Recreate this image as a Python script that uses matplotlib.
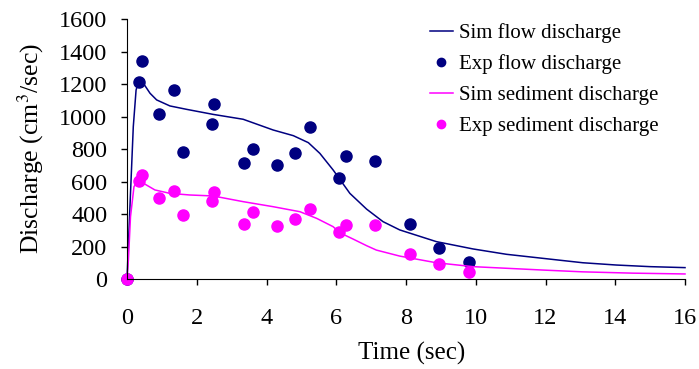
import matplotlib.pyplot as plt

plt.rcParams['font.family'] = ['Liberation Serif', 'DejaVu Serif']
plt.rcParams['mathtext.fontset'] = 'stix'

# simulated flow discharge
t_flow_sim = [0, 0.1, 0.18, 0.26, 0.35, 0.47, 0.66, 0.85, 1.23, 1.71, 2.47, 3.33, 4.19,
              4.77, 5.2, 5.53, 5.91, 6.39, 6.87, 7.34, 7.82, 8.87, 9.92, 10.88, 11.93,
              13.07, 14.03, 15.0, 16]
q_flow_sim = [0, 527, 937, 1163, 1225, 1204, 1143, 1102, 1065, 1044, 1013, 983, 917,
              882, 839, 773, 671, 527, 430, 353, 302, 230, 185, 152, 127,
              100, 86, 76, 70]

# simulated sediment discharge
t_sed_sim = [0, 0.04, 0.1, 0.2, 0.32, 0.56, 0.8, 1.23, 1.8, 2.47, 3.33, 4.19, 4.96,
             5.44, 5.91, 6.1, 6.49, 6.87, 7.15, 7.82, 8.87, 9.92, 10.88, 11.93,
             13.07, 14.5, 16]
q_sed_sim = [0, 117, 383, 568, 609, 578, 548, 527, 517, 511, 476, 445, 414,
             373, 322, 285, 245, 205, 178, 141, 100, 76, 66, 55,
             44, 36, 31]

# experiments
t_exp_flow = [0, 0.35, 0.44, 0.93, 1.35, 1.6, 2.43, 2.5, 3.36, 3.62, 4.29, 4.81, 5.26,
              6.08, 6.29, 7.12, 8.11, 8.94, 9.81]
q_exp_flow = [0, 1215, 1341, 1013, 1163, 782, 952, 1075, 712, 798, 703, 773, 933,
              621, 757, 728, 340, 189, 103]

t_exp_sed = [0, 0.35, 0.44, 0.93, 1.35, 1.6, 2.43, 2.5, 3.36, 3.62, 4.29, 4.81, 5.26,
             6.08, 6.29, 7.12, 8.11, 8.94, 9.81]
q_exp_sed = [0, 601, 642, 500, 543, 392, 480, 535, 340, 410, 328, 367, 429,
             289, 330, 330, 154, 92, 45]

navy = '#000080'
magenta = '#FF00FF'

fig = plt.figure(figsize=(6.99, 3.69), dpi=100)
ax = fig.add_axes([0.1817, 0.2439, 0.7983, 0.7046])

ax.plot(t_flow_sim, q_flow_sim, color=navy, lw=1.1, label='Sim flow discharge')
ax.plot(t_exp_flow, q_exp_flow, 'o', color=navy, ms=8, label='Exp flow discharge')
ax.plot(t_sed_sim, q_sed_sim, color=magenta, lw=1.1, label='Sim sediment discharge')
ax.plot(t_exp_sed, q_exp_sed, 'o', color=magenta, ms=8, label='Exp sediment discharge')

ax.set_xlim(0, 16)
ax.set_ylim(0, 1600)
ax.set_xticks(range(0, 17, 2))
ax.set_yticks(range(0, 1601, 200))
ax.spines['top'].set_visible(False)
ax.spines['right'].set_visible(False)
ax.tick_params(direction='out', length=4.3, width=1, labelsize=17.5)
ax.tick_params(axis='y', pad=10)
ax.tick_params(axis='x', pad=16.5)
ax.set_xlabel('Time (sec)', fontsize=18)
ax.set_ylabel('Discharge (cm$^3$/sec)', fontsize=18.5)
ax.xaxis.set_label_coords(0.51, -0.242)
ax.yaxis.set_label_coords(-0.145, 0.5)

fig.legend(loc='upper left', bbox_to_anchor=(0.615, 0.937), frameon=False, fontsize=15,
           handlelength=1.1, handletextpad=0.3, labelspacing=0.54, markerscale=0.75,
           borderpad=0, borderaxespad=0)

for c in ax.get_children():
    if hasattr(c, 'set_clip_on'):
        c.set_clip_on(False)

fig.savefig('out.png', dpi=100)
